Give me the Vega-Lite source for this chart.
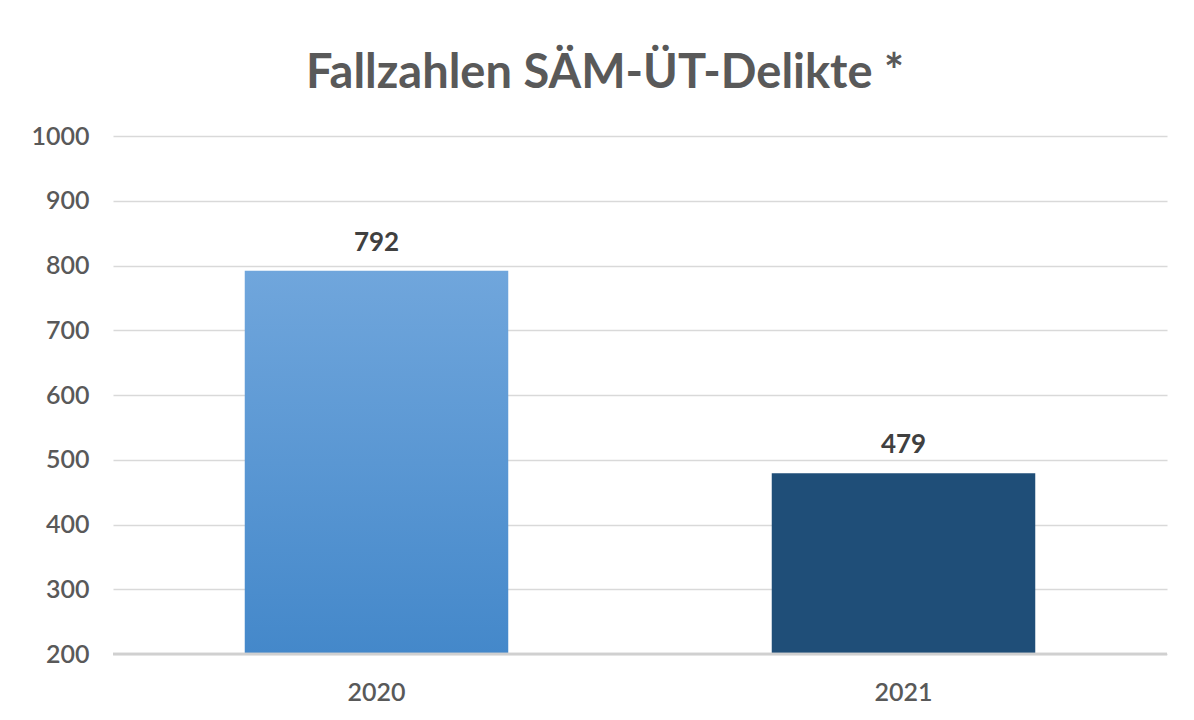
{
  "$schema": "https://vega.github.io/schema/vega-lite/v6.json",
  "width": 1054,
  "height": 518,
  "autosize": "none",
  "padding": {"left": 113, "top": 136, "right": 27, "bottom": 66},
  "background": "white",
  "data": {"values": [
    {"year": "2020", "count": 792},
    {"year": "2021", "count": 479}
  ]},
  "title": {
    "text": "Fallzahlen SÄM-ÜT-Delikte *",
    "font": "Lato",
    "fontSize": 47,
    "fontWeight": "bold",
    "color": "#595959",
    "anchor": "middle",
    "dx": -35,
    "offset": 26
  },
  "encoding": {
    "x": {
      "field": "year", "type": "nominal",
      "scale": {"paddingInner": 0.5, "paddingOuter": 0.25},
      "axis": {"title": null, "labelAngle": 0, "ticks": false, "domain": false,
               "labelFont": "Lato", "labelFontSize": 25, "labelFontWeight": 600, "labelColor": "#595959", "labelPadding": 26}
    },
    "y": {
      "field": "count", "type": "quantitative",
      "scale": {"domain": [200, 1000], "zero": false, "nice": false},
      "axis": {"title": null, "values": [200,300,400,500,600,700,800,900,1000], "format": "d", "ticks": false, "domain": false,
               "gridColor": "#d9d9d9", "gridWidth": 1.5,
               "labelFont": "Lato", "labelFontSize": 25, "labelFontWeight": 600, "labelColor": "#595959", "labelPadding": 24}
    }
  },
  "layer": [
    {
      "transform": [{"filter": "datum.year == '2020'"}],
      "mark": {"type": "bar", "color": {"gradient": "linear", "x1": 0, "y1": 0, "x2": 0, "y2": 1,
        "stops": [{"offset": 0, "color": "#70a6dc"}, {"offset": 1, "color": "#4488ca"}]}},
      "encoding": {"y2": {"datum": 200}}
    },
    {
      "transform": [{"filter": "datum.year == '2021'"}],
      "mark": {"type": "bar", "color": "#1f4e78"},
      "encoding": {"y2": {"datum": 200}}
    },
    {
      "mark": {"type": "rule", "color": "#d0d0d0", "strokeWidth": 2.5},
      "encoding": {"y": {"datum": 200}, "x": null}
    },
    {
      "mark": {"type": "text", "font": "Lato", "fontSize": 26, "fontWeight": "bold", "color": "#404040", "baseline": "alphabetic", "dy": -20},
      "encoding": {"text": {"field": "count", "type": "quantitative"}}
    }
  ],
  "config": {"view": {"stroke": null}}
}
